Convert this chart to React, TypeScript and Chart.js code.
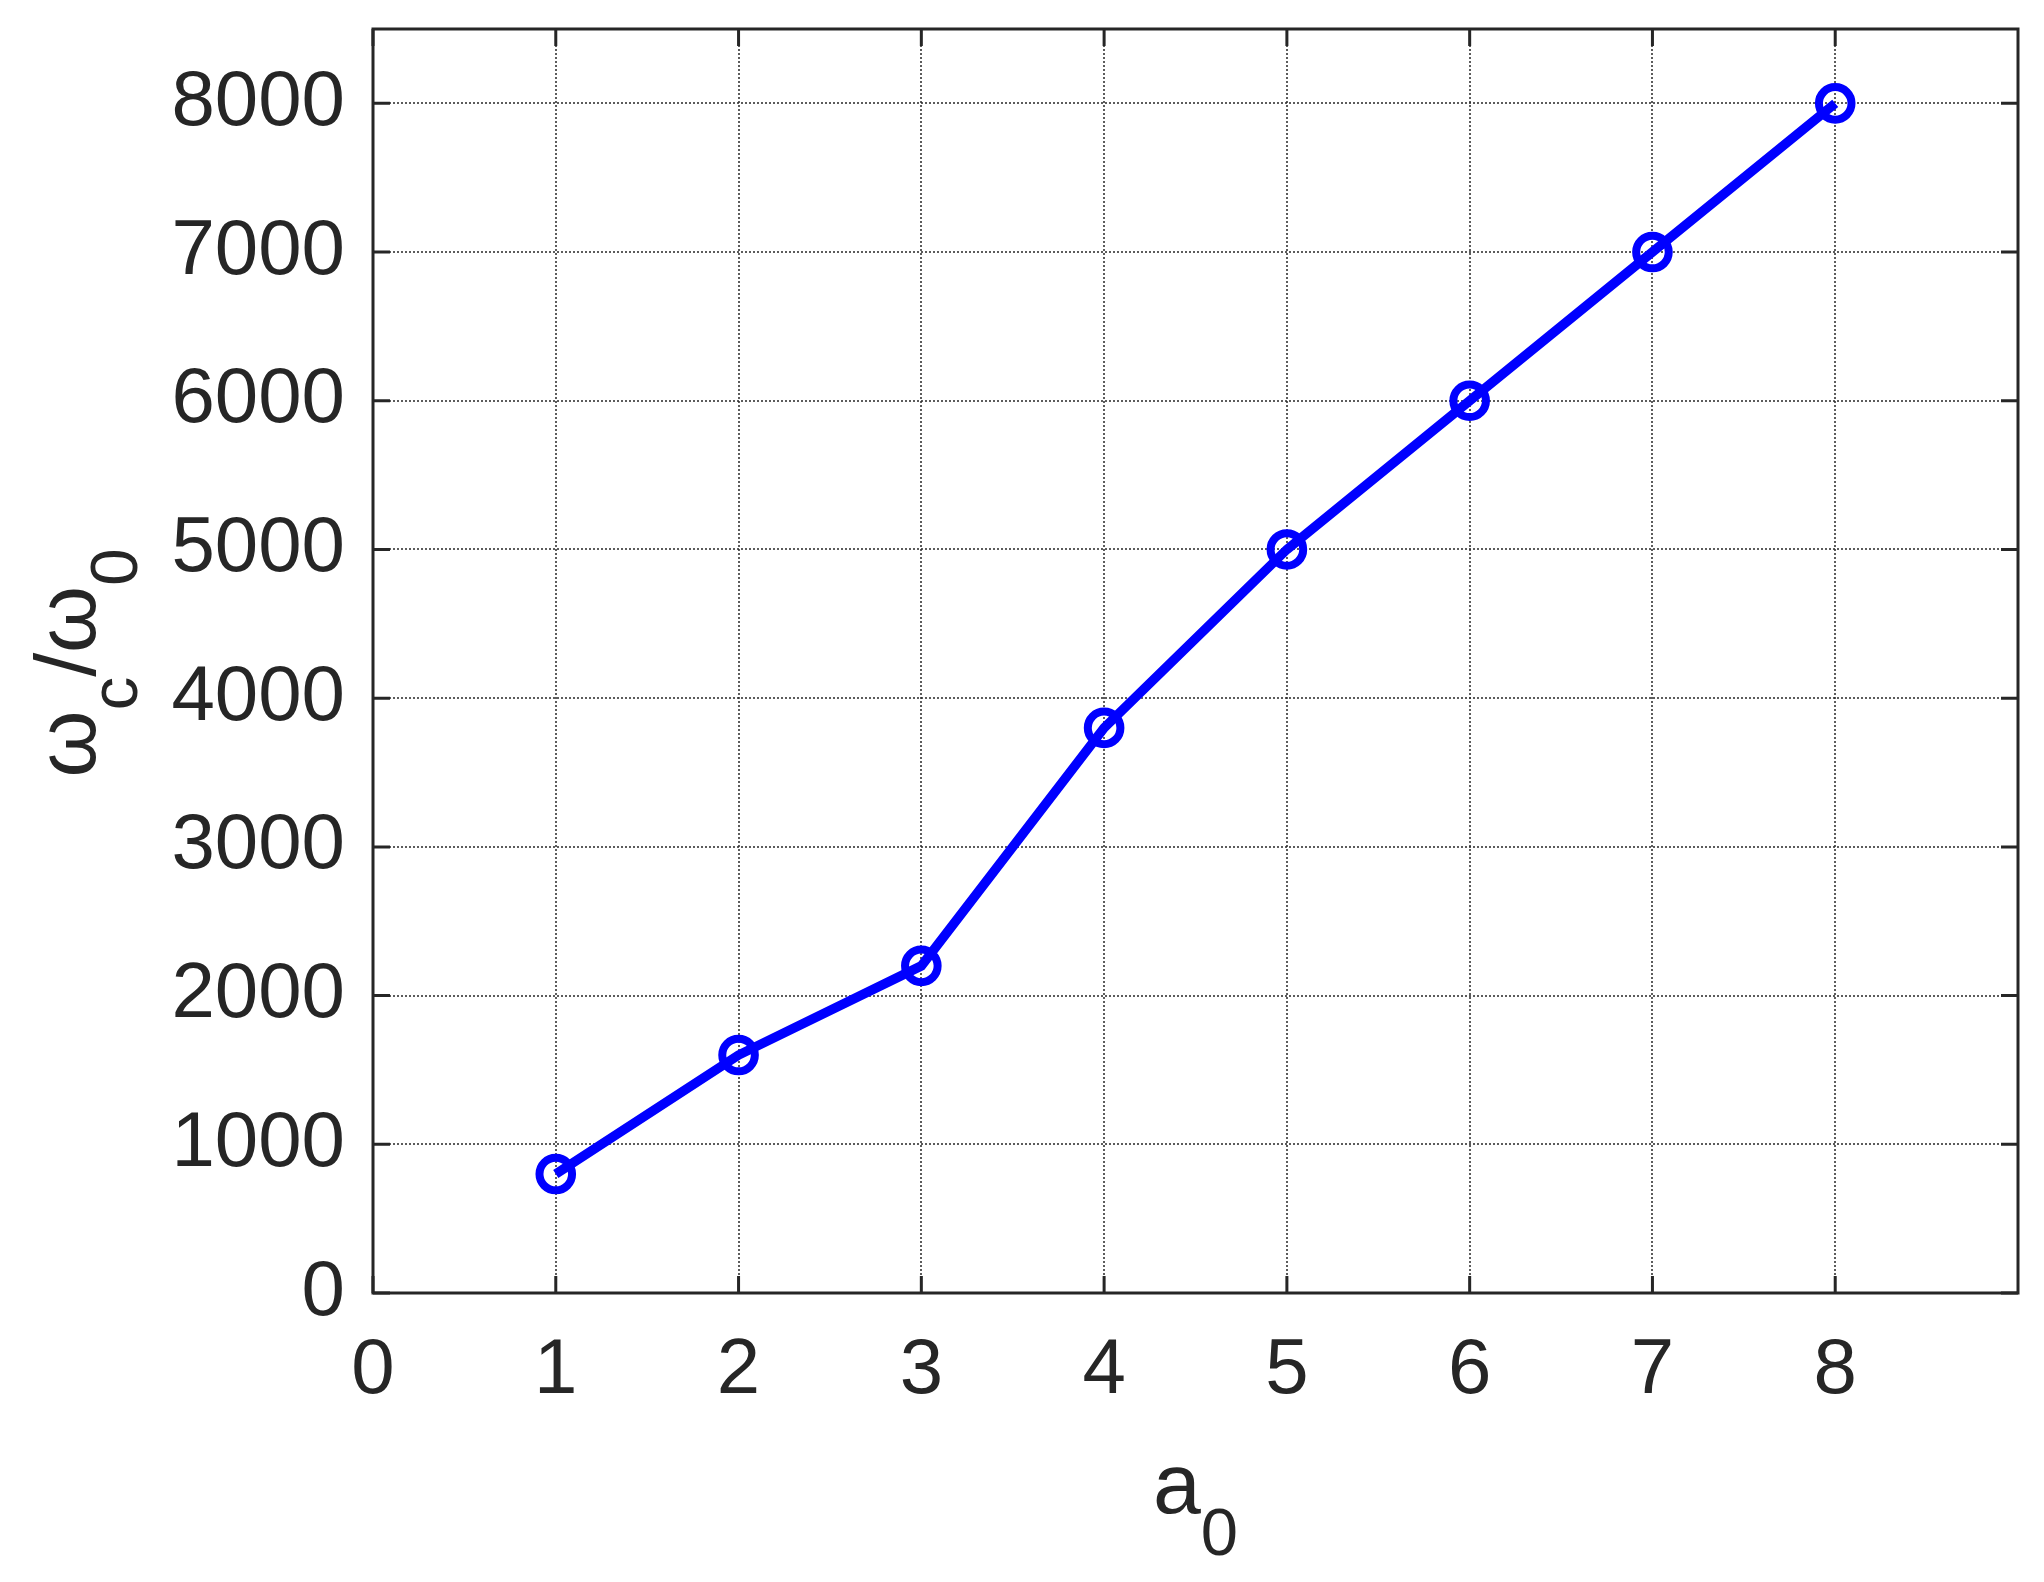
import React, { useEffect, useRef } from 'react';
import { Chart, registerables } from 'chart.js';

Chart.register(...registerables);

// ---- data ----
const xValues = [1, 2, 3, 4, 5, 6, 7, 8];
const yValues = [800, 1600, 2200, 3800, 5000, 6000, 7000, 8000];
const xTicks = [0, 1, 2, 3, 4, 5, 6, 7, 8];
const yTicks = [0, 1000, 2000, 3000, 4000, 5000, 6000, 7000, 8000];
const xRange = [0, 9];
const yRange = [0, 8500];
const xLabelParts = [
  { text: 'a', sub: false },
  { text: '0', sub: true },
];
const yLabelParts = [
  { text: 'ω', sub: false },
  { text: 'c', sub: true },
  { text: '/ω', sub: false },
  { text: '0', sub: true },
];

const FONT = '"Liberation Sans", Arial, Helvetica, sans-serif';
const TEXT = '#262626';
const TICK_SIZE = 78;
const LABEL_SIZE = 86;
const SUB_SIZE = 67;
const SUB_SHIFT = 42;

function drawParts(ctx: CanvasRenderingContext2D, parts: { text: string; sub: boolean }[], cx: number, baseY: number) {
  const widths = parts.map((p) => {
    ctx.font = `${p.sub ? SUB_SIZE : LABEL_SIZE}px ${FONT}`;
    return ctx.measureText(p.text).width;
  });
  const total = widths.reduce((a, b) => a + b, 0);
  let u = cx - total / 2;
  parts.forEach((p, i) => {
    ctx.font = `${p.sub ? SUB_SIZE : LABEL_SIZE}px ${FONT}`;
    ctx.fillText(p.text, u, baseY + (p.sub ? SUB_SHIFT : 0));
    u += widths[i];
  });
}

const matlabAxes = {
  id: 'matlabAxes',
  beforeDatasetsDraw(chart: any) {
    const { ctx, chartArea, scales } = chart;
    const { left, right, top, bottom } = chartArea;
    const xs = scales.x;
    const ys = scales.y;
    ctx.save();
    ctx.strokeStyle = 'rgba(38,38,38,0.75)';
    ctx.lineWidth = 2;
    ctx.setLineDash([2, 2]);
    xTicks.forEach((v) => {
      if (v <= xRange[0] || v >= xRange[1]) return;
      const px = Math.round(xs.getPixelForValue(v));
      ctx.beginPath();
      ctx.moveTo(px, top);
      ctx.lineTo(px, bottom);
      ctx.stroke();
    });
    yTicks.forEach((v) => {
      if (v <= yRange[0] || v >= yRange[1]) return;
      const py = Math.round(ys.getPixelForValue(v));
      ctx.beginPath();
      ctx.moveTo(left, py);
      ctx.lineTo(right, py);
      ctx.stroke();
    });
    ctx.restore();
  },
  afterDatasetsDraw(chart: any) {
    const { ctx, chartArea, scales } = chart;
    const { left, right, top, bottom } = chartArea;
    const xs = scales.x;
    const ys = scales.y;
    const tl = 17;
    ctx.save();
    ctx.setLineDash([]);
    ctx.strokeStyle = TEXT;
    ctx.lineWidth = 3;
    ctx.beginPath();
    xTicks.forEach((v) => {
      const px = xs.getPixelForValue(v);
      ctx.moveTo(px, bottom);
      ctx.lineTo(px, bottom - tl);
      ctx.moveTo(px, top);
      ctx.lineTo(px, top + tl);
    });
    yTicks.forEach((v) => {
      const py = ys.getPixelForValue(v);
      ctx.moveTo(left, py);
      ctx.lineTo(left + tl, py);
      ctx.moveTo(right, py);
      ctx.lineTo(right - tl, py);
    });
    ctx.stroke();
    ctx.strokeRect(left, top, right - left, bottom - top);

    // axis titles
    ctx.fillStyle = TEXT;
    ctx.textAlign = 'left';
    ctx.textBaseline = 'alphabetic';
    drawParts(ctx, xLabelParts, (left + right) / 2, 1513);

    ctx.translate(95, (top + bottom) / 2 + 2);
    ctx.rotate(-Math.PI / 2);
    drawParts(ctx, yLabelParts, 0, 0);
    ctx.restore();
  },
};

export default function App() {
  const canvasRef = useRef<HTMLCanvasElement | null>(null);

  useEffect(() => {
    const canvas = canvasRef.current;
    if (!canvas) return;
    const chart = new Chart(canvas, {
      type: 'line',
      data: {
        datasets: [
          {
            data: xValues.map((x, i) => ({ x, y: yValues[i] })),
            borderColor: '#0000FF',
            borderWidth: 9.5,
            pointRadius: 16.3,
            pointHoverRadius: 16.3,
            pointBorderWidth: 8,
            pointBorderColor: '#0000FF',
            pointBackgroundColor: 'rgba(0,0,0,0)',
            tension: 0,
            fill: false,
          },
        ],
      },
      options: {
        responsive: false,
        animation: false,
        devicePixelRatio: 1,
        layout: { padding: { top: 29, right: 26, left: 0, bottom: 0 } },
        plugins: { legend: { display: false }, tooltip: { enabled: false } },
        events: [],
        scales: {
          x: {
            type: 'linear',
            min: xRange[0],
            max: xRange[1],
            afterBuildTicks: (s: any) => {
              s.ticks = xTicks.map((v) => ({ value: v }));
            },
            afterFit: (s: any) => {
              s.height = 289;
              s.paddingLeft = 0;
              s.paddingRight = 0;
            },
            grid: { display: false, drawTicks: false },
            border: { display: false },
            ticks: {
              autoSkip: false,
              maxRotation: 0,
              padding: 32,
              color: TEXT,
              font: { family: FONT, size: TICK_SIZE },
              callback: (v: any) => String(v),
            },
          },
          y: {
            type: 'linear',
            min: yRange[0],
            max: yRange[1],
            afterBuildTicks: (s: any) => {
              s.ticks = yTicks.map((v) => ({ value: v }));
            },
            afterFit: (s: any) => {
              s.width = 373;
              s.paddingTop = 0;
              s.paddingBottom = 0;
            },
            grid: { display: false, drawTicks: false },
            border: { display: false },
            ticks: {
              autoSkip: false,
              padding: 28,
              color: TEXT,
              font: { family: FONT, size: TICK_SIZE },
              callback: (v: any) => String(v),
            },
          },
        },
      },
      plugins: [matlabAxes],
    } as any);
    return () => chart.destroy();
  }, []);

  return (
    <div style={{ position: 'fixed', left: 0, top: 0, width: 2044, height: 1582, background: '#fff' }}>
      <canvas ref={canvasRef} width={2044} height={1582} style={{ display: 'block' }} />
    </div>
  );
}
